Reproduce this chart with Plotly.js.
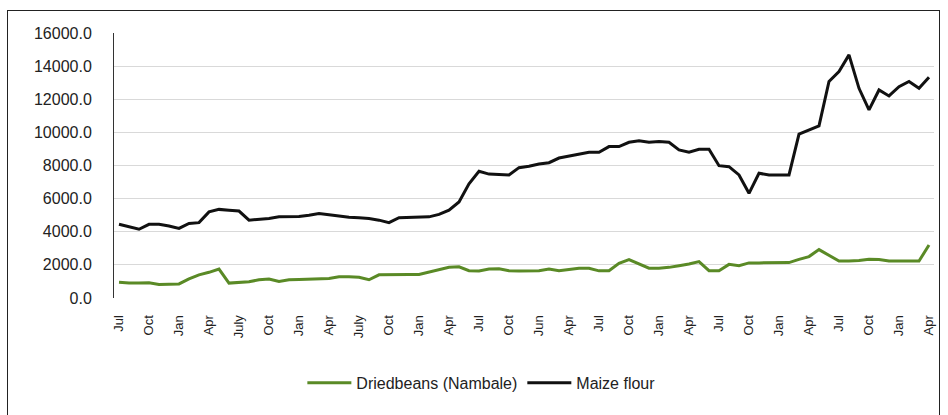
<!DOCTYPE html>
<html>
<head>
<meta charset="utf-8">
<script src="https://cdn.plot.ly/plotly-3.0.1.min.js"></script>
<style>
  html, body { margin: 0; padding: 0; background: #fff; }
  #wrap { position: relative; width: 948px; height: 415px; overflow: hidden; }
  #chart { width: 948px; height: 415px; }
  #frame { position: absolute; left: 7px; top: 10px; width: 933px; height: 430px;
           border: 1.5px solid #222; pointer-events: none; box-sizing: border-box; }
</style>
</head>
<body>
<div id="wrap">
  <div id="chart"></div>
  <div id="frame"></div>
</div>
<script>
// Tick labels shown every third month (as printed in the source)
const tickLabels = ["Jul","Oct","Jan","Apr","July","Oct","Jan","Apr","July","Oct","Jan","Apr",
                    "Jul","Oct","Jun","Apr","Jul","Oct","Jan","Apr","Jul","Oct","Jan","Apr",
                    "Jul","Oct","Jan","Apr"];

// Dried beans (Nambale), monthly prices
const beans = [950, 900, 900, 920, 820, 820, 850, 1150, 1400, 1550,
               1750, 900, 920, 980, 1100, 1150, 1000, 1100, 1120, 1140,
               1150, 1180, 1280, 1290, 1250, 1100, 1400, 1420, 1420, 1420,
               1420, 1550, 1700, 1850, 1880, 1650, 1630, 1750, 1760, 1650,
               1630, 1640, 1650, 1750, 1650, 1720, 1800, 1800, 1640, 1650,
               2100, 2320, 2050, 1800, 1800, 1850, 1950, 2050, 2200, 1650,
               1650, 2030, 1950, 2120, 2120, 2120, 2130, 2140, 2330, 2500,
               2920, 2550, 2230, 2230, 2260, 2340, 2330, 2230, 2230, 2230,
               2230, 3200];

// Maize flour, monthly prices
const maize = [4450, 4300, 4150, 4450, 4450, 4350, 4200, 4500, 4550, 5200,
               5350, 5300, 5250, 4700, 4750, 4800, 4900, 4900, 4920, 5000,
               5100, 5030, 4950, 4880, 4850, 4800, 4700, 4550, 4850, 4880,
               4900, 4900, 5050, 5300, 5800, 6900, 7650, 7480, 7450, 7430,
               7870, 7950, 8090, 8170, 8450, 8560, 8700, 8800, 8800, 9140,
               9140, 9400, 9500, 9400, 9450, 9400, 8940, 8800, 8980, 8980,
               7990, 7930, 7430, 6320, 7530, 7430, 7430, 7430, 9890, 10150,
               10390, 13070, 13670, 14680, 12660, 11360, 12560, 12200, 12760, 13070,
               12660, 13330];

const idx = maize.map((_, i) => i);
const tickPos = tickLabels.map((_, k) => 3 * k);

const font = "Liberation Sans, Arial, sans-serif";

const traces = [
  { x: idx, y: beans, type: "scatter", mode: "lines", name: "Driedbeans (Nambale)",
    line: { color: "#5a8a26", width: 3 } },
  { x: idx, y: maize, type: "scatter", mode: "lines", name: "Maize flour",
    line: { color: "#111111", width: 3 } }
];

const layout = {
  width: 948, height: 415,
  margin: { l: 114, r: 14, t: 33, b: 117 },
  paper_bgcolor: "#fff", plot_bgcolor: "#fff",
  font: { family: font, size: 14, color: "#222" },
  showlegend: true,
  legend: { orientation: "h", x: 0.448, xanchor: "center", y: -0.32, yanchor: "middle",
            font: { family: font, size: 16, color: "#222" }, itemwidth: 44, traceorder: "normal" },
  xaxis: {
    range: [-0.5, 81.5], tickmode: "array", tickvals: tickPos, ticktext: tickLabels,
    tickangle: -90, showgrid: false, zeroline: false, ticks: "",
    showline: true, mirror: true, linecolor: "rgba(0,0,0,0)",
    tickfont: { family: font, size: 13, color: "#222" }, ticklabelstandoff: 11
  },
  yaxis: {
    range: [0, 16000], tickmode: "array",
    tickvals: [0, 2000, 4000, 6000, 8000, 10000, 12000, 14000, 16000],
    tickformat: ".1f", showgrid: true, gridcolor: "#d9d9d9", gridwidth: 1,
    zeroline: false, showline: true, linecolor: "#333", linewidth: 1, ticks: "",
    tickfont: { family: font, size: 16, color: "#222" }, ticklabelstandoff: 18
  }
};

Plotly.newPlot("chart", traces, layout, { displayModeBar: false, staticPlot: true });
</script>
</body>
</html>
